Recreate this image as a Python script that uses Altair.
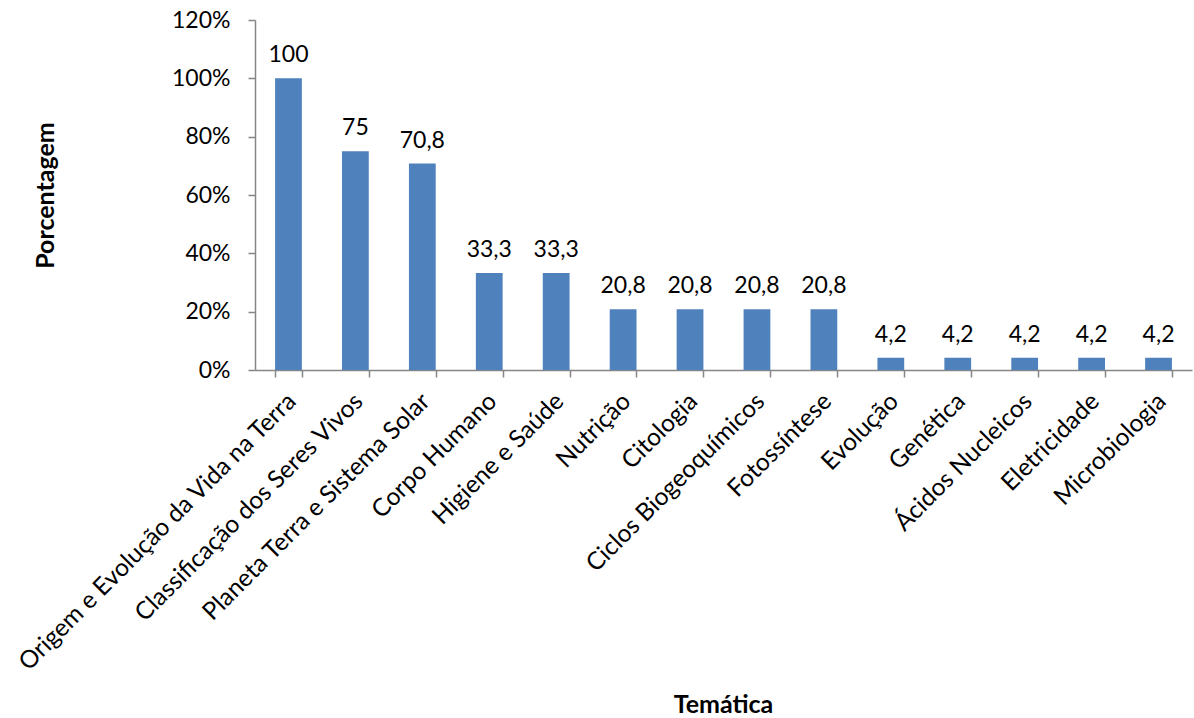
import altair as alt
import pandas as pd

# Temáticas abordadas e a porcentagem de ocorrência de cada uma
tematicas = [
    "Origem e Evolução da Vida na Terra",
    "Classificação dos Seres Vivos",
    "Planeta Terra e Sistema Solar",
    "Corpo Humano",
    "Higiene e Saúde",
    "Nutrição",
    "Citologia",
    "Ciclos Biogeoquímicos",
    "Fotossíntese",
    "Evolução",
    "Genética",
    "Ácidos Nucleicos",
    "Eletricidade",
    "Microbiologia",
]
porcentagens = [100, 75, 70.8, 33.3, 33.3, 20.8, 20.8, 20.8, 20.8, 4.2, 4.2, 4.2, 4.2, 4.2]
y_ticks = [0, 20, 40, 60, 80, 100, 120]

df = pd.DataFrame({"Temática": tematicas, "valor": porcentagens})

FONT = "Lato"
AXIS_GRAY = "#868686"
TXT = 23
TITLE = 25

x_enc = alt.X(
    "Temática:N",
    sort=tematicas,
    scale=alt.Scale(paddingInner=0.6, paddingOuter=0.3),
    axis=alt.Axis(
        title="Temática",
        labelAngle=-45,
        labelFontSize=24.5,
        labelFont=FONT,
        labelColor="black",
        labelPadding=12,
        labelOffset=-5,
        labelLimit=0,
        labelOverlap=False,
        tickBand="extent",
        tickSize=7,
        tickColor=AXIS_GRAY,
        domainColor=AXIS_GRAY,
        tickWidth=1.5,
        domainWidth=1.5,
        titleFont=FONT,
        titleFontSize=TITLE,
        titleFontWeight="bold",
        titleColor="black",
        titleX=468,
        titleY=334,
        titleBaseline="middle",
        titleAlign="center",
    ),
)

y_enc = alt.Y(
    "valor:Q",
    scale=alt.Scale(domain=[0, 120]),
    axis=alt.Axis(
        title="Porcentagem",
        values=y_ticks,
        labelExpr="datum.value + '%'",
        labelFontSize=TXT,
        labelFont=FONT,
        labelColor="black",
        labelPadding=18,
        tickSize=7,
        tickColor=AXIS_GRAY,
        domainColor=AXIS_GRAY,
        tickWidth=1.5,
        domainWidth=1.5,
        grid=False,
        titleFont=FONT,
        titleFontSize=TITLE,
        titleFontWeight="bold",
        titleColor="black",
        titleX=-210,
        titleY=175,
        titleBaseline="middle",
        titleAlign="center",
    ),
)

bars = alt.Chart(df).mark_bar(color="#4F81BD").encode(x=x_enc, y=y_enc)

labels = (
    alt.Chart(df)
    .transform_calculate(rotulo="replace(toString(datum.valor), '.', ',')")
    .mark_text(baseline="bottom", dy=-11, fontSize=TXT, font=FONT, color="black")
    .encode(x=alt.X("Temática:N", sort=tematicas), y="valor:Q", text="rotulo:N")
)

chart = (
    alt.layer(bars, labels)
    .properties(
        width=937,
        height=350,
        autosize=alt.AutoSizeParams(type="none"),
        padding={"left": 255, "top": 20, "right": 2, "bottom": 348},
        background="white",
    )
    .configure_view(stroke=None)
)

chart.save("out.html", embed_options={"renderer": "svg", "actions": False})
